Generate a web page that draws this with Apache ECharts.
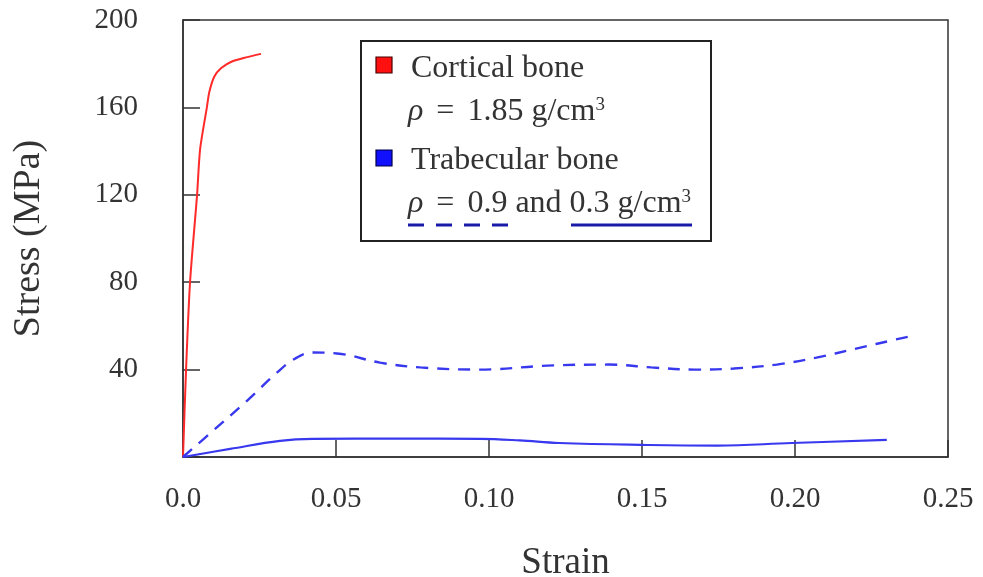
<!DOCTYPE html>
<html>
<head>
<meta charset="utf-8">
<script src="https://cdn.jsdelivr.net/npm/echarts@6/dist/echarts.min.js"></script>
<style>
  html, body { margin: 0; padding: 0; background: #fff; }
  #chart { width: 983px; height: 577px; }
</style>
</head>
<body>
<div id="chart"></div>
<script>
"use strict"

// Cortical bone, rho = 1.85 g/cm3
const corticalStrain = [0, 0.001, 0.0023, 0.0046, 0.0056, 0.0078, 0.0086, 0.0102, 0.0125, 0.016, 0.021, 0.0255]
const corticalStress = [0, 40, 80, 120, 141, 160, 167, 174, 178, 181, 183, 184.5]

// Trabecular bone, rho = 0.9 g/cm3 (dashed)
const denseStrain = [0, 0.0098, 0.0209, 0.0307, 0.0366, 0.0425, 0.0503, 0.0644, 0.0775, 0.097, 0.119, 0.139, 0.153, 0.167, 0.18, 0.194, 0.207, 0.22, 0.233, 0.239]
const denseStress = [0, 12, 25.7, 38.6, 45, 47.8, 47.4, 43.2, 41, 40, 41.8, 42.3, 41, 40, 40.5, 42.3, 45.5, 49.6, 53.8, 55.6]

// Trabecular bone, rho = 0.3 g/cm3 (solid)
const lightStrain = [0, 0.0154, 0.0317, 0.0425, 0.07, 0.097, 0.11, 0.123, 0.152, 0.1745, 0.199, 0.23]
const lightStress = [0, 3.7, 7.4, 8.3, 8.4, 8.3, 7.6, 6.4, 5.5, 5.2, 6.4, 7.8]

const xTicks = [0, 0.05, 0.10, 0.15, 0.20, 0.25]
const yTicks = [40, 80, 120, 160, 200]

const pairs = (xs, ys) => xs.map((x, i) => [x, ys[i]])

const FONT = "Liberation Serif"
const INK = "#333"
const RED = "#ff2a2a"
const BLUE = "#3838ee"
const DARK_BLUE = "#1a1aa8"

const chart = echarts.init(document.getElementById("chart"), null, { renderer: "canvas" })

const rich = {
  i: { fontFamily: FONT, fontSize: 32, fontStyle: "italic", fill: INK },
  e: { fontFamily: FONT, fontSize: 32, fill: INK, padding: [0, 5, 0, 5] },
  s: { fontFamily: FONT, fontSize: 19, fill: INK, verticalAlign: "top", padding: [0, 0, 13, 0] },
}

const option = {
  animation: false,
  grid: {
    left: 183, right: 35, top: 20, bottom: 120,
    outerBoundsMode: "none",
    containLabel: false,
    show: true, borderColor: INK, borderWidth: 1.5,
  },
  xAxis: {
    type: "value",
    min: 0, max: 0.25, interval: 0.05,
    name: "Strain",
    nameLocation: "middle",
    nameGap: 88,
    nameTextStyle: { fontFamily: FONT, fontSize: 37, color: INK },
    axisLine: { show: true, onZero: false, lineStyle: { color: INK, width: 1.5 } },
    axisTick: { show: true, inside: true, length: 17, lineStyle: { color: INK, width: 1.5 } },
    splitLine: { show: false },
    axisLabel: {
      margin: 28,
      fontFamily: FONT, fontSize: 29, color: INK,
      formatter: (v) => {
        const t = xTicks.find((k) => Math.abs(k - v) < 1e-9)
        if (t === undefined) return ""
        return t === 0 ? "0.0" : t.toFixed(2)
      },
    },
  },
  yAxis: {
    type: "value",
    min: 0, max: 200, interval: 40,
    name: "Stress (MPa)",
    nameLocation: "middle",
    nameGap: 135,
    nameTextStyle: { fontFamily: FONT, fontSize: 38, color: INK },
    axisLine: { show: true, lineStyle: { color: INK, width: 1.5 } },
    axisTick: { show: true, inside: true, length: 17, lineStyle: { color: INK, width: 1.5 } },
    splitLine: { show: false },
    axisLabel: {
      margin: 45,
      fontFamily: FONT, fontSize: 29, color: INK,
      formatter: (v) => (yTicks.includes(v) ? String(v) : ""),
    },
  },
  series: [
    {
      name: "Cortical bone",
      type: "line",
      data: pairs(corticalStrain, corticalStress),
      showSymbol: false,
      smooth: 0.25,
      lineStyle: { color: RED, width: 2 },
      z: 3,
    },
    {
      name: "Trabecular 0.9",
      type: "line",
      data: pairs(denseStrain, denseStress),
      showSymbol: false,
      smooth: 0.4,
      lineStyle: { color: BLUE, width: 2.4, type: [12, 9] },
    },
    {
      name: "Trabecular 0.3",
      type: "line",
      data: pairs(lightStrain, lightStress),
      showSymbol: false,
      smooth: 0.4,
      lineStyle: { color: BLUE, width: 2.2 },
    },
  ],
  graphic: [
    {
      type: "rect",
      shape: { x: 361, y: 41, width: 350, height: 200 },
      style: { fill: "#fff", stroke: "#222", lineWidth: 2 },
      z: 10,
    },
    {
      type: "rect",
      shape: { x: 376, y: 57, width: 16, height: 16 },
      style: { fill: "#ff1010", stroke: "#400", lineWidth: 1.2 },
      z: 11,
    },
    {
      type: "rect",
      shape: { x: 376, y: 150, width: 16, height: 16 },
      style: { fill: "#1010ff", stroke: "#004", lineWidth: 1.2 },
      z: 11,
    },
    {
      type: "text", left: 411, top: 53, z: 11,
      style: { text: "Cortical bone", fontFamily: FONT, fontSize: 32, fill: INK },
    },
    {
      type: "text", left: 408, top: 96, z: 11,
      style: {
        text: "{i|ρ} {e|=} 1.85 g/cm{s|3}",
        fontFamily: FONT, fontSize: 32, fill: INK,
        rich,
      },
    },
    {
      type: "text", left: 411, top: 145, z: 11,
      style: { text: "Trabecular bone", fontFamily: FONT, fontSize: 32, fill: INK },
    },
    {
      type: "text", left: 408, top: 188, z: 11,
      style: {
        text: "{i|ρ} {e|=} 0.9 and 0.3 g/cm{s|3}",
        fontFamily: FONT, fontSize: 32, fill: INK,
        rich,
      },
    },
    {
      type: "line", z: 11,
      shape: { x1: 408, y1: 225, x2: 508, y2: 225 },
      style: { stroke: DARK_BLUE, lineWidth: 3, lineDash: [16, 12] },
    },
    {
      type: "line", z: 11,
      shape: { x1: 571, y1: 225, x2: 692, y2: 225 },
      style: { stroke: DARK_BLUE, lineWidth: 3 },
    },
  ],
}

option && chart.setOption(option)
</script>
</body>
</html>
